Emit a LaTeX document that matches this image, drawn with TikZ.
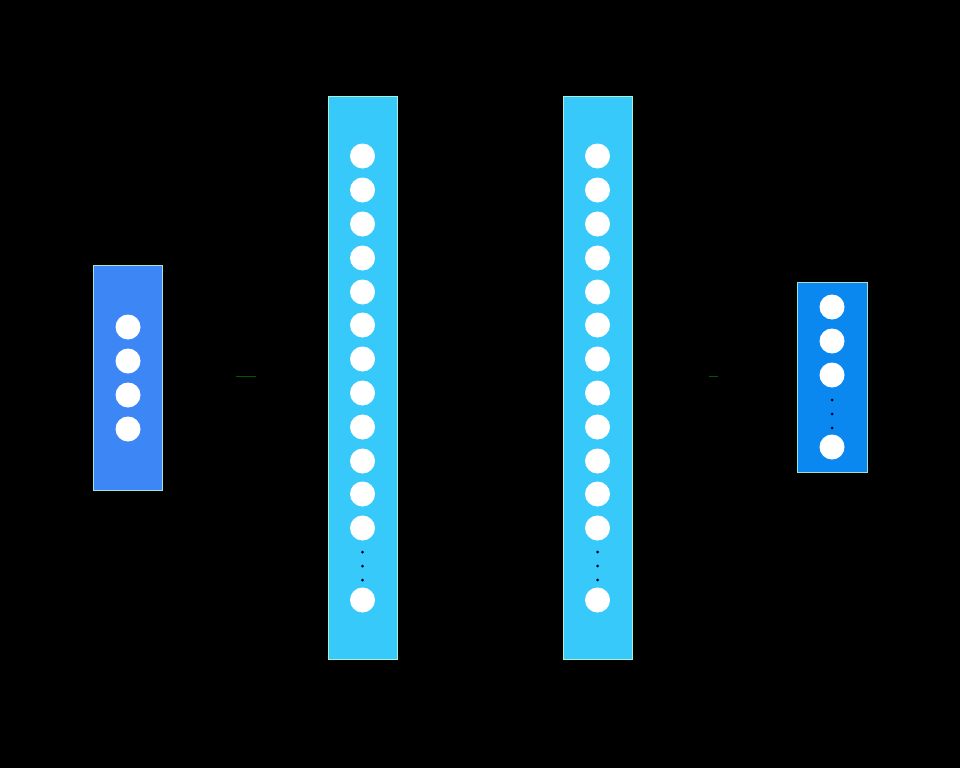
\documentclass[tikz,border=0pt]{standalone}
\begin{document}
\begin{tikzpicture}[x=1pt,y=-1pt,
  layerbox/.style={draw=#1!60!green!40!white, line width=0.8pt, inner sep=0pt},
  neuron/.style={circle, fill=white, draw=none, minimum size=25pt, inner sep=0pt},
  dotmark/.style={circle, fill=black!85!blue, draw=none, minimum size=3pt, inner sep=0pt},
  faint/.style={draw=green!35!black, line width=0.8pt}]
\definecolor{cIn}{HTML}{3D86F5}
\definecolor{cHid}{HTML}{36C9F9}
\definecolor{cOut}{HTML}{0B88F0}
\fill[black] (0,0) rectangle (960,768);
\useasboundingbox (0,0) rectangle (960,768);
% boxes
\node[layerbox=cIn, fill=cIn, minimum width=69pt, minimum height=225pt] (L1) at (127.5,377.5) {};
\node[layerbox=cHid, fill=cHid, minimum width=69pt, minimum height=563pt] (L2) at (362.5,377.5) {};
\node[layerbox=cHid, fill=cHid, minimum width=69pt, minimum height=563pt] (L3) at (597.5,377.5) {};
\node[layerbox=cOut, fill=cOut, minimum width=70pt, minimum height=190pt] (L4) at (832,377) {};
% input neurons
\foreach \y [count=\i] in {327,361,395,429} {
  \node[neuron] (a\i) at (128,\y) {};
}
% hidden neurons
\foreach \y [count=\i] in {156,190,224,258,292,325,359,393,427,461,494,528,600} {
  \node[neuron] (b\i) at (362.5,\y) {};
  \node[neuron] (c\i) at (597.5,\y) {};
}
\foreach \y [count=\i] in {552,566,580} {
  \node[dotmark] (bd\i) at (362.5,\y) {};
  \node[dotmark] (cd\i) at (597.5,\y) {};
}
% output neurons
\foreach \y [count=\i] in {307,341,375,447} {
  \node[neuron] (d\i) at (832,\y) {};
}
\foreach \y [count=\i] in {400,414,428} {
  \node[dotmark] (dd\i) at (832,\y) {};
}
% faint remnants
\coordinate (f1a) at (236,376.5);
\coordinate (f1b) at (256,376.5);
\coordinate (f2a) at (709,376.5);
\coordinate (f2b) at (718,376.5);
\draw[faint] (f1a) -- (f1b);
\draw[faint] (f2a) -- (f2b);
\end{tikzpicture}
\end{document}
